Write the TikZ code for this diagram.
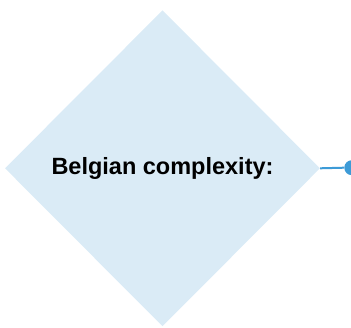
\documentclass[tikz,border=0pt]{standalone}
\usepackage{fontspec}
\setmainfont{Liberation Sans}
\usetikzlibrary{shapes.geometric}
\definecolor{dfill}{HTML}{DAEBF6}
\definecolor{lblue}{HTML}{3D9BD7}
\begin{document}
\begin{tikzpicture}[x=1pt,y=1pt,
  decision/.style={diamond, fill=dfill, draw=none, inner sep=0pt, minimum width=315pt, minimum height=316pt, font=\fontsize{23.5}{28}\selectfont\bfseries},
  enddot/.style={circle, fill=lblue, draw=none, inner sep=0pt, minimum size=15pt},
  link/.style={draw=lblue, line width=2pt}]
\useasboundingbox (0,0) rectangle (351,327);
\node[decision] (d) at (162.5,158.7) {Belgian complexity:};
\node[enddot] (dot) at (351.8,159.3) {};
\draw[link] (d.east) -- (dot.west);
\end{tikzpicture}
\end{document}
